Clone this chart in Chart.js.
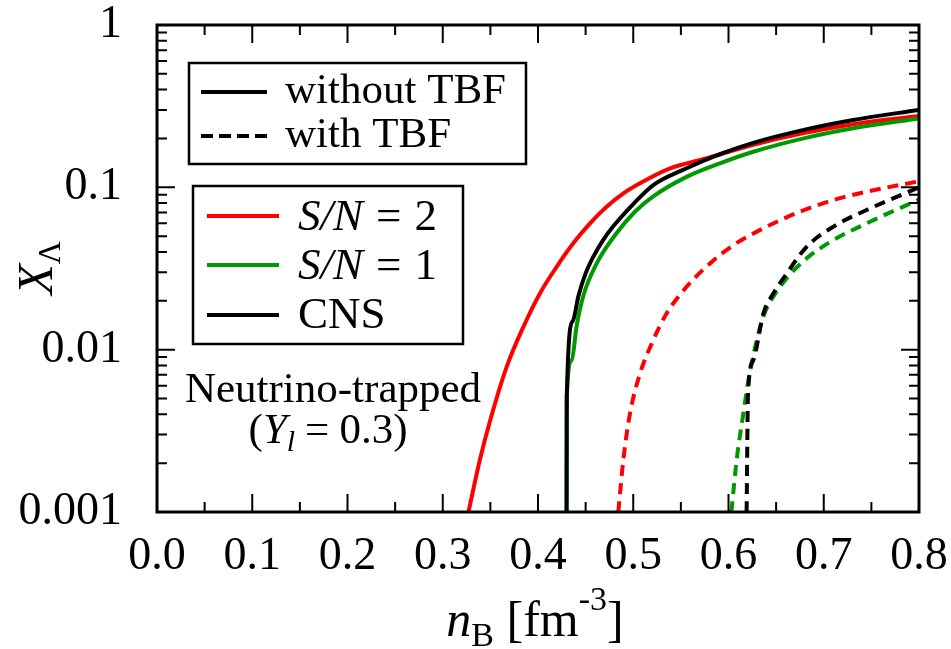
<!DOCTYPE html>
<html>
<head>
<meta charset="utf-8">
<script src="https://cdn.jsdelivr.net/npm/chart.js@4.4.1/dist/chart.umd.min.js"></script>
<style>
  html, body { margin: 0; padding: 0; background: #ffffff; }
  #wrap { width: 951px; height: 649px; }
</style>
</head>
<body>
<div id="wrap"><canvas id="chart" width="951" height="649"></canvas></div>
<script>
// Lambda fraction X_Λ versus baryon density n_B, neutrino-trapped matter (Y_l = 0.3)

// --- tick values and labels ---
const xMajorTicks = [0.0, 0.1, 0.2, 0.3, 0.4, 0.5, 0.6, 0.7, 0.8];
const xMinorTicks = [0.05, 0.15, 0.25, 0.35, 0.45, 0.55, 0.65, 0.75];
const xTickLabels = ['0.0', '0.1', '0.2', '0.3', '0.4', '0.5', '0.6', '0.7', '0.8'];
const yMajorTicks = [0.001, 0.01, 0.1, 1];
const yTickLabels = ['0.001', '0.01', '0.1', '1'];
const yMinorFactors = [2, 3, 4, 5, 6, 7, 8, 9];

// --- without TBF (solid) ---
const nCns = [0.4300, 0.4302, 0.4365, 0.4425, 0.450, 0.458, 0.468, 0.479, 0.500, 0.521, 0.556, 0.591, 0.626, 0.679, 0.731, 0.800];
const xCns = [0.001, 0.0051, 0.0150, 0.0215, 0.0295, 0.0373, 0.0470, 0.0575, 0.0789, 0.1033, 0.131, 0.160, 0.188, 0.226, 0.260, 0.300];

const nSN1 = [0.4300, 0.4302, 0.4353, 0.4406, 0.4476, 0.4616, 0.4826, 0.502, 0.521, 0.556, 0.591, 0.626, 0.679, 0.731, 0.800];
const xSN1 = [0.001, 0.0051, 0.0086, 0.0140, 0.0215, 0.034, 0.0523, 0.0710, 0.0880, 0.116, 0.1406, 0.1657, 0.2004, 0.231, 0.266];

const nSN2 = [0.327, 0.339, 0.350, 0.367, 0.3846, 0.402, 0.4197, 0.437, 0.4546, 0.472, 0.4896, 0.507, 0.5386, 0.5735, 0.626, 0.679, 0.731, 0.800];
const xSN2 = [0.001, 0.0021, 0.0037, 0.0078, 0.0138, 0.0222, 0.0325, 0.0452, 0.060, 0.0759, 0.0918, 0.106, 0.131, 0.149, 0.183, 0.216, 0.245, 0.275];

// --- with TBF (dashed) ---
const nCnsTBF = [0.619, 0.6205, 0.626, 0.6366, 0.647, 0.6576, 0.682, 0.710, 0.745, 0.800];
const xCnsTBF = [0.001, 0.0054, 0.0086, 0.0167, 0.0222, 0.0275, 0.043, 0.0572, 0.0725, 0.100];

const nSN1TBF = [0.603, 0.6086, 0.6156, 0.621, 0.628, 0.6366, 0.647, 0.661, 0.682, 0.710, 0.745, 0.800];
const xSN1TBF = [0.001, 0.0021, 0.00405, 0.0065, 0.0104, 0.016, 0.0212, 0.0275, 0.0365, 0.0473, 0.060, 0.084];

const nSN2TBF = [0.4843, 0.4896, 0.4966, 0.507, 0.5194, 0.535, 0.556, 0.5806, 0.605, 0.640, 0.675, 0.710, 0.745, 0.800];
const xSN2TBF = [0.001, 0.0021, 0.00405, 0.0071, 0.0109, 0.0167, 0.0244, 0.034, 0.044, 0.0572, 0.0708, 0.0835, 0.094, 0.109];

// --- legend entries ---
const styleLegend = ['without TBF', 'with TBF'];
const modelLegend = [
  { italic: 'S/N', rest: '2', color: '#ff0000' },
  { italic: 'S/N', rest: '1', color: '#009900' },
  { italic: '', rest: 'CNS', color: '#000000' }
];

const SERIF = '"Liberation Serif", "Times New Roman", serif';
const RED = '#ff0000', GREEN = '#009900', BLACK = '#000000';

function pts(ns, xs) { return ns.map((n, i) => ({ x: n, y: xs[i] })); }

function curve(label, ns, xs, color, dashed) {
  return {
    label: label,
    data: pts(ns, xs),
    borderColor: color,
    borderWidth: 4,
    borderDash: dashed ? [11, 7] : [],
    pointRadius: 0,
    fill: false,
    cubicInterpolationMode: 'monotone',
    showLine: true
  };
}

// draw a run of text pieces with different fonts/offsets
function drawRuns(ctx, runs, x, y, align) {
  let total = 0;
  runs.forEach(r => { ctx.font = r.font; r.w = ctx.measureText(r.t).width; total += r.w + (r.gap || 0); });
  let cx = align === 'center' ? x - total / 2 : x;
  ctx.textAlign = 'left';
  ctx.textBaseline = 'alphabetic';
  runs.forEach(r => {
    ctx.font = r.font;
    ctx.fillText(r.t, cx, y + (r.dy || 0));
    cx += r.w + (r.gap || 0);
  });
}

const framePlugin = {
  id: 'frameTicks',
  afterDatasetsDraw(chart) {
    const ctx = chart.ctx, a = chart.chartArea;
    const xs = chart.scales.x, ys = chart.scales.y;
    ctx.save();
    ctx.strokeStyle = '#000';
    ctx.lineWidth = 2;
    ctx.setLineDash([]);
    ctx.beginPath();
    const majorLen = 18, minorLen = 10;
    xMajorTicks.forEach(v => {
      const p = xs.getPixelForValue(v);
      ctx.moveTo(p, a.bottom); ctx.lineTo(p, a.bottom - majorLen);
      ctx.moveTo(p, a.top); ctx.lineTo(p, a.top + majorLen);
    });
    xMinorTicks.forEach(v => {
      const p = xs.getPixelForValue(v);
      ctx.moveTo(p, a.bottom); ctx.lineTo(p, a.bottom - minorLen);
      ctx.moveTo(p, a.top); ctx.lineTo(p, a.top + minorLen);
    });
    yMajorTicks.forEach(v => {
      const p = ys.getPixelForValue(v);
      ctx.moveTo(a.left, p); ctx.lineTo(a.left + majorLen, p);
      ctx.moveTo(a.right, p); ctx.lineTo(a.right - majorLen, p);
    });
    yMajorTicks.slice(0, -1).forEach(dec => {
      yMinorFactors.forEach(f => {
        const p = ys.getPixelForValue(dec * f);
        ctx.moveTo(a.left, p); ctx.lineTo(a.left + minorLen, p);
        ctx.moveTo(a.right, p); ctx.lineTo(a.right - minorLen, p);
      });
    });
    ctx.stroke();
    ctx.lineWidth = 3;
    ctx.strokeRect(a.left, a.top, a.right - a.left, a.bottom - a.top);
    ctx.restore();
  },
  afterDraw(chart) {
    const ctx = chart.ctx;
    ctx.save();
    ctx.fillStyle = '#000';
    ctx.strokeStyle = '#000';

    // line-style legend box
    ctx.lineWidth = 2.5;
    ctx.setLineDash([]);
    ctx.strokeRect(189, 63, 337, 101);
    ctx.lineWidth = 4;
    ctx.beginPath(); ctx.moveTo(201, 92); ctx.lineTo(267, 92); ctx.stroke();
    ctx.setLineDash([12, 6]);
    ctx.beginPath(); ctx.moveTo(201, 136); ctx.lineTo(267, 136); ctx.stroke();
    ctx.setLineDash([]);
    ctx.font = '43px ' + SERIF;
    ctx.textAlign = 'left';
    ctx.textBaseline = 'alphabetic';
    ctx.fillText(styleLegend[0], 285, 103);
    ctx.fillText(styleLegend[1], 285, 147);

    // model legend box
    ctx.lineWidth = 2.5;
    ctx.strokeRect(193, 186, 270, 158);
    const rowsY = [216, 265, 315];
    const baseY = [230, 279, 328];
    modelLegend.forEach((m, i) => {
      ctx.strokeStyle = m.color;
      ctx.lineWidth = 4;
      ctx.beginPath(); ctx.moveTo(207, rowsY[i]); ctx.lineTo(279, rowsY[i]); ctx.stroke();
      const runs = [];
      if (m.italic) {
        runs.push({ t: m.italic, font: 'italic 45px ' + SERIF, gap: 13 });
        runs.push({ t: '=', font: '45px ' + SERIF, gap: 13 });
      }
      runs.push({ t: m.rest, font: '45px ' + SERIF });
      drawRuns(ctx, runs, 298, baseY[i], 'left');
    });

    // annotation
    ctx.font = '43px ' + SERIF;
    ctx.textAlign = 'center';
    ctx.fillText('Neutrino-trapped', 333, 402);
    drawRuns(ctx, [
      { t: '(', font: '43px ' + SERIF },
      { t: 'Y', font: 'italic 43px ' + SERIF },
      { t: 'l', font: 'italic 30px ' + SERIF, dy: 8, gap: 10 },
      { t: '=', font: '43px ' + SERIF, gap: 10 },
      { t: '0.3)', font: '43px ' + SERIF }
    ], 328, 443, 'center');

    // x-axis title
    drawRuns(ctx, [
      { t: 'n', font: 'italic 50px ' + SERIF },
      { t: 'B', font: '34px ' + SERIF, dy: 10 },
      { t: ' [fm', font: '50px ' + SERIF },
      { t: '-3', font: '34px ' + SERIF, dy: -26 },
      { t: ']', font: '50px ' + SERIF }
    ], 535, 636, 'center');

    // y-axis title, rotated
    ctx.translate(52, 268);
    ctx.rotate(-Math.PI / 2);
    drawRuns(ctx, [
      { t: 'X', font: 'italic 50px ' + SERIF },
      { t: 'Λ', font: '32px ' + SERIF, dy: 8 }
    ], 0, 0, 'center');
    ctx.restore();
  }
};

const chart = new Chart(document.getElementById('chart'), {
  type: 'scatter',
  data: {
    datasets: [
      curve('CNS', nCns, xCns, BLACK, false),
      curve('S/N = 1', nSN1, xSN1, GREEN, false),
      curve('S/N = 2', nSN2, xSN2, RED, false),
      curve('CNS (TBF)', nCnsTBF, xCnsTBF, BLACK, true),
      curve('S/N = 1 (TBF)', nSN1TBF, xSN1TBF, GREEN, true),
      curve('S/N = 2 (TBF)', nSN2TBF, xSN2TBF, RED, true)
    ]
  },
  options: {
    responsive: false,
    devicePixelRatio: 1,
    animation: false,
    layout: { padding: { left: 0, right: 32, top: 25, bottom: 0 } },
    plugins: { legend: { display: false }, tooltip: { enabled: false } },
    scales: {
      x: {
        type: 'linear',
        min: 0, max: 0.8,
        grid: { display: false },
        border: { display: false },
        afterBuildTicks(s) { s.ticks = xMajorTicks.map(v => ({ value: v })); },
        afterFit(s) { s.height = 137; s.paddingLeft = 0; s.paddingRight = 0; },
        ticks: {
          autoSkip: false, maxRotation: 0, padding: 14,
          color: '#000',
          font: { family: SERIF, size: 46, lineHeight: 1 },
          callback: (v, i) => xTickLabels[i]
        }
      },
      y: {
        type: 'logarithmic',
        min: 0.001, max: 1,
        grid: { display: false },
        border: { display: false },
        afterBuildTicks(s) { s.ticks = yMajorTicks.map(v => ({ value: v })); },
        afterFit(s) { s.width = 157; s.paddingTop = 0; s.paddingBottom = 0; },
        ticks: {
          autoSkip: false, padding: 27,
          color: '#000',
          font: { family: SERIF, size: 46, lineHeight: 1 },
          callback: (v, i) => yTickLabels[i]
        }
      }
    }
  },
  plugins: [framePlugin]
});
</script>
</body>
</html>
